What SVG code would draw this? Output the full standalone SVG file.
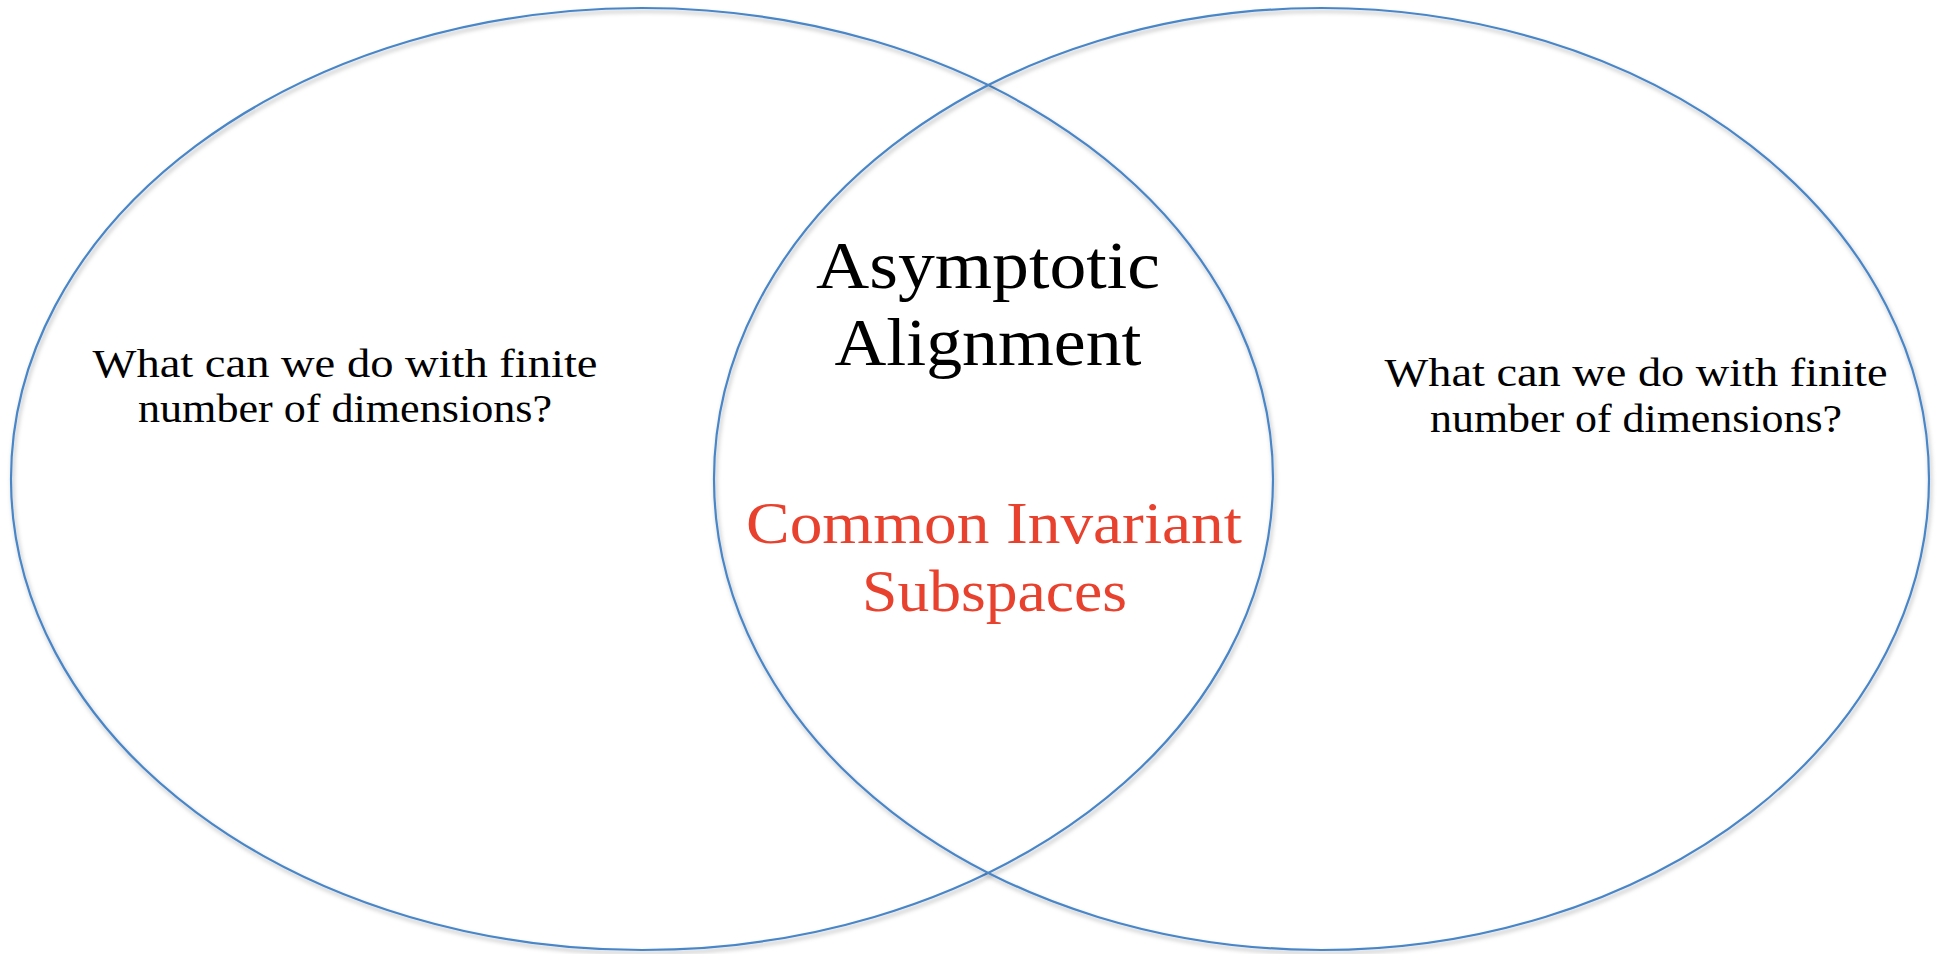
<svg xmlns="http://www.w3.org/2000/svg" width="1942" height="954" viewBox="0 0 1942 954">
<style>
.ring{fill:none;stroke:#4A86C8;stroke-width:2.2;filter:url(#sh)}
text{font-family:'Liberation Serif','DejaVu Serif',serif;text-anchor:middle;fill:#000}
.q{font-size:40px}
.big{font-size:68px}
.red{font-size:60px;fill:#E8422F}
</style>
<defs>
<filter id="sh" x="-5%" y="-5%" width="110%" height="110%">
<feDropShadow dx="1.5" dy="3" stdDeviation="2" flood-color="#000" flood-opacity="0.3"/>
</filter>
</defs>
<rect width="1942" height="954" fill="#fff"/>
<g id="left-set">
<ellipse class="ring" cx="642" cy="479" rx="631" ry="471"/>
<text class="q" x="345" y="377" textLength="505" lengthAdjust="spacingAndGlyphs">What can we do with finite</text>
<text class="q" x="345" y="422" textLength="414" lengthAdjust="spacingAndGlyphs">number of dimensions?</text>
</g>
<g id="right-set">
<ellipse class="ring" cx="1321.5" cy="479" rx="607.5" ry="471"/>
<text class="q" x="1636" y="386" textLength="503" lengthAdjust="spacingAndGlyphs">What can we do with finite</text>
<text class="q" x="1636" y="432" textLength="412" lengthAdjust="spacingAndGlyphs">number of dimensions?</text>
</g>
<g id="intersection">
<text class="big" x="988" y="288" textLength="344" lengthAdjust="spacingAndGlyphs">Asymptotic</text>
<text class="big" x="988" y="365" textLength="307" lengthAdjust="spacingAndGlyphs">Alignment</text>
<text class="red" x="994" y="543" textLength="496" lengthAdjust="spacingAndGlyphs">Common Invariant</text>
<text class="red" x="994.5" y="611" textLength="265" lengthAdjust="spacingAndGlyphs">Subspaces</text>
</g>
<g id="connectors"/>
</svg>
